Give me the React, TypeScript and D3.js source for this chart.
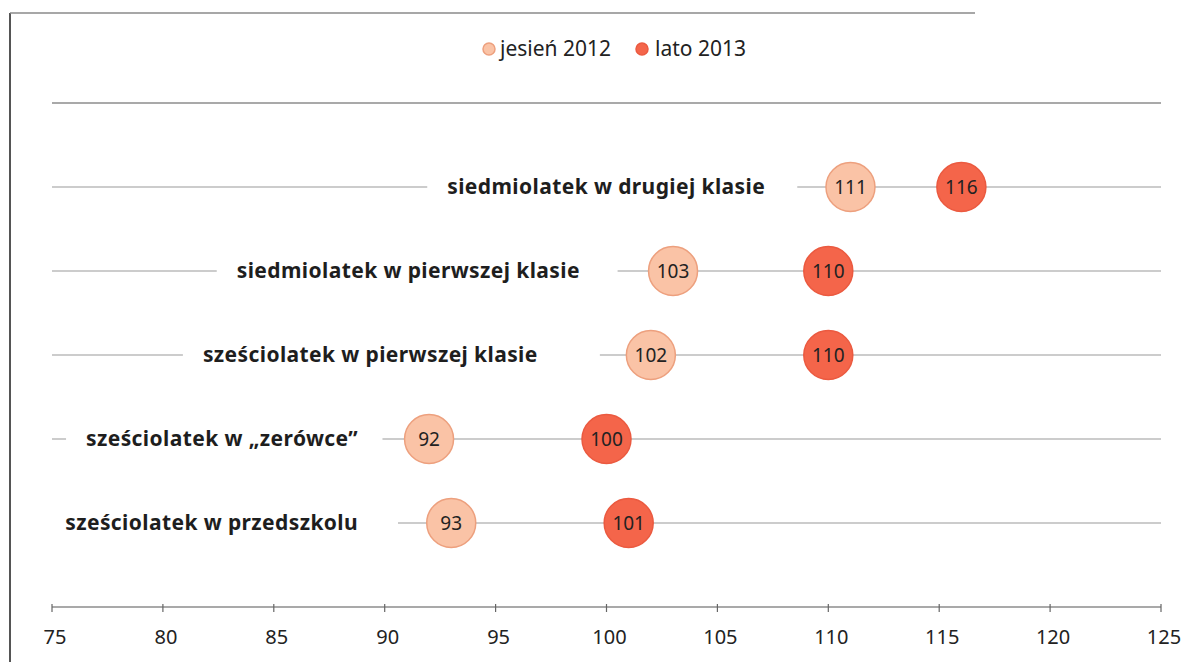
import React, { useEffect, useRef } from "react";
import * as d3 from "d3";

const categories = [
  "siedmiolatek w drugiej klasie",
  "siedmiolatek w pierwszej klasie",
  "sześciolatek w pierwszej klasie",
  "sześciolatek w „zerówce”",
  "sześciolatek w przedszkolu",
];
const autumn2012 = [111, 103, 102, 92, 93];
const summer2013 = [116, 110, 110, 100, 101];
// where each category label ends and where its row line resumes (axis units)
const labelEndValue = [107.15, 98.8, 96.9, 88.8, 88.8];
const lineResumeValue = [108.6, 100.5, 99.7, 89.9, 90.6];
const xTicks = [75, 80, 85, 90, 95, 100, 105, 110, 115, 120, 125];
const seriesNames = ["jesień 2012", "lato 2013"];

const W = 1194;
const H = 662;
const FONT = "'Noto Sans', 'Open Sans', sans-serif";

export default function App() {
  const ref = useRef<SVGSVGElement | null>(null);

  useEffect(() => {
    document.body.style.margin = "0";
    const svg = d3.select(ref.current);
    svg.selectAll("*").remove();

    const x = d3.scaleLinear().domain([75, 125]).range([52, 1161]);
    const y = d3.scaleLinear().domain([0, 6]).range([607, 103]);
    const rowY = (i: number) => y(categories.length - i);

    // frame
    svg.append("line").attr("x1", 10).attr("x2", 10).attr("y1", 13).attr("y2", H)
      .attr("stroke", "#555").attr("stroke-width", 2);
    svg.append("line").attr("x1", 10).attr("x2", 975).attr("y1", 13).attr("y2", 13)
      .attr("stroke", "#8a8a8a").attr("stroke-width", 1.5);

    // top rule
    svg.append("line").attr("x1", x(75)).attr("x2", x(125)).attr("y1", y(6)).attr("y2", y(6))
      .attr("stroke", "#8c8c8c").attr("stroke-width", 1.5);

    // row lines
    const rows = svg.append("g");
    categories.forEach((c, i) => {
      rows.append("line").attr("x1", x(75)).attr("x2", x(125))
        .attr("y1", rowY(i)).attr("y2", rowY(i))
        .attr("stroke", "#9a9a9a").attr("stroke-width", 1.2);
    });

    // labels with white background
    const labG = svg.append("g");
    categories.forEach((c, i) => {
      const bg = labG.append("rect");
      const t = labG.append("text")
        .attr("x", x(labelEndValue[i]))
        .attr("y", rowY(i))
        .attr("dy", "0.35em")
        .attr("text-anchor", "end")
        .attr("font-family", FONT)
        .attr("font-weight", "bold")
        .attr("font-size", 21)
        .attr("letter-spacing", 0.4)
        .attr("fill", "#1e1e1e")
        .text(c);
      const w = (t.node() as SVGTextElement).getComputedTextLength();
      const start = x(labelEndValue[i]) - w - 20;
      bg.attr("x", start).attr("y", rowY(i) - 14)
        .attr("width", x(lineResumeValue[i]) - start).attr("height", 28)
        .attr("fill", "#fff");
    });

    // circles
    const series = [
      { vals: autumn2012, fill: "#fac3a6", stroke: "#eda07e" },
      { vals: summer2013, fill: "#f4654a", stroke: "#eb5a40" },
    ];
    const dots = svg.append("g");
    series.forEach((s) => {
      s.vals.forEach((v, i) => {
        dots.append("circle").attr("cx", x(v)).attr("cy", rowY(i)).attr("r", 24.5)
          .attr("fill", s.fill).attr("stroke", s.stroke).attr("stroke-width", 1.5);
        dots.append("text").attr("x", x(v)).attr("y", rowY(i)).attr("dy", "0.36em")
          .attr("text-anchor", "middle").attr("font-family", FONT).attr("font-size", 19)
          .attr("fill", "#222").text(String(v));
      });
    });

    // axis
    const ax = svg.append("g");
    ax.append("line").attr("x1", x(75)).attr("x2", x(125)).attr("y1", y(0)).attr("y2", y(0))
      .attr("stroke", "#8c8c8c").attr("stroke-width", 1.5);
    xTicks.forEach((t) => {
      ax.append("line").attr("x1", x(t)).attr("x2", x(t)).attr("y1", y(0) - 3).attr("y2", y(0) + 5)
        .attr("stroke", "#666").attr("stroke-width", 1.2);
      ax.append("text").attr("x", x(t) + 3).attr("y", 644).attr("text-anchor", "middle")
        .attr("font-family", FONT).attr("font-size", 20).attr("fill", "#222").text(String(t));
    });

    // legend
    const lg = svg.append("g");
    lg.append("circle").attr("cx", 489).attr("cy", 49).attr("r", 6)
      .attr("fill", series[0].fill).attr("stroke", series[0].stroke).attr("stroke-width", 1.5);
    lg.append("text").attr("x", 500).attr("y", 49).attr("dy", "0.35em")
      .attr("font-family", FONT).attr("font-size", 21).attr("fill", "#222").text(seriesNames[0]);
    lg.append("circle").attr("cx", 642).attr("cy", 49).attr("r", 6)
      .attr("fill", series[1].fill).attr("stroke", series[1].stroke).attr("stroke-width", 1.5);
    lg.append("text").attr("x", 655).attr("y", 49).attr("dy", "0.35em")
      .attr("font-family", FONT).attr("font-size", 21).attr("fill", "#222").text(seriesNames[1]);
  }, []);

  return <svg ref={ref} width={W} height={H} style={{ display: "block", background: "#fff" }} />;
}
